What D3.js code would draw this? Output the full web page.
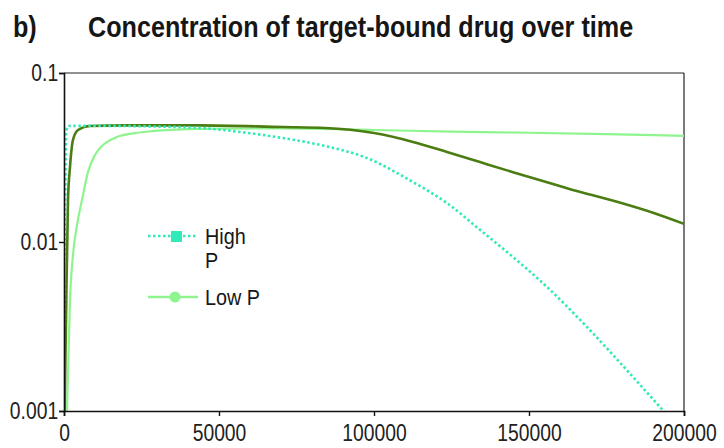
<!DOCTYPE html>
<html>
<head>
<meta charset="utf-8">
<script src="https://cdn.jsdelivr.net/npm/d3@7/dist/d3.min.js"></script>
<style>
  html, body { margin: 0; padding: 0; background: #fff; }
  svg { display: block; }
</style>
</head>
<body>
<svg id="chart" width="724" height="448"></svg>
<script>
// Time (s) and concentration samples for each simulated series
const highPTime   = [0, 300, 700, 1500, 10000, 30000, 43871, 56774, 70645, 84194, 97742, 112581, 123548, 134194, 144839, 155806, 168710, 183548, 193226, 197000];
const highPValues = [0.0032, 0.012, 0.045, 0.0486, 0.0487, 0.0482, 0.0473, 0.0448, 0.0412, 0.0370, 0.0314, 0.0226, 0.0170, 0.0118, 0.00815, 0.00542, 0.00314, 0.00159, 0.00101, 0.00085];

const midTime   = [0, 650, 1290, 1935, 2903, 4516, 8387, 20000, 43871, 70645, 84194, 100000, 112581, 123548, 134194, 144839, 155806, 162258, 178387, 190000, 200000];
const midValues = [0.0006, 0.0035, 0.0177, 0.0278, 0.0402, 0.0460, 0.0486, 0.0490, 0.0490, 0.0479, 0.0473, 0.0441, 0.0391, 0.0341, 0.0297, 0.0259, 0.0226, 0.0208, 0.0173, 0.0149, 0.0128];

const lowPTime   = [0, 970, 1935, 2900, 4190, 5806, 7742, 10000, 12258, 17097, 22903, 29355, 43871, 70645, 100000, 125000, 150000, 175000, 200000];
const lowPValues = [0.0005, 0.001, 0.00454, 0.0084, 0.0126, 0.0177, 0.0260, 0.0327, 0.0370, 0.0418, 0.0441, 0.0454, 0.0467, 0.0470, 0.0460, 0.0450, 0.0443, 0.0435, 0.0425];

const xTicks = [0, 50000, 100000, 150000, 200000];
const yTicks = [0.001, 0.01, 0.1];
const yTickLabels = ["0.001", "0.01", "0.1"];

const titleLabel = "b)";
const titleText = "Concentration of target-bound drug over time";
const legendNames = ["High", "P", "Low P"];

const colors = { high: "#30eab8", mid: "#4b7d12", low: "#8ef48e" };

const svg = d3.select("#chart");
const margin = { left: 64, right: 40, top: 73, bottom: 37 };
const W = 724, H = 448;
const x0 = margin.left, x1 = W - margin.right, y0 = margin.top, y1 = H - margin.bottom;

const x = d3.scaleLinear().domain([0, 200000]).range([x0, x1]);
const y = d3.scaleLog().domain([0.001, 0.1]).range([y1, y0]);

const font = "'Liberation Sans', Arial, sans-serif";

// condensed text helper: horizontal squeeze of a regular face
function narrowText(g, tx, ty, str, size, sx, weight) {
  return g.append("text")
    .attr("transform", `translate(${tx},${ty}) scale(${sx},1)`)
    .attr("font-family", font).attr("font-size", size)
    .attr("font-weight", weight || "normal")
    .attr("fill", "#161616").text(str);
}

// title
narrowText(svg, 13, 37, titleLabel, 29, 0.868, "bold");
narrowText(svg, 88, 37, titleText, 29, 0.868, "bold");

// clip region for the curves
svg.append("defs").append("clipPath").attr("id", "plotClip")
  .append("rect").attr("x", x0).attr("y", y0).attr("width", x1 - x0).attr("height", y1 - y0);

// frame (top and right)
svg.append("line").attr("x1", x0).attr("x2", x1).attr("y1", y0).attr("y2", y0)
  .attr("stroke", "#222").attr("stroke-width", 1.2);
svg.append("line").attr("x1", x1).attr("x2", x1).attr("y1", y0).attr("y2", y1)
  .attr("stroke", "#222").attr("stroke-width", 1.2);

const line = d3.line().x(d => x(d[0])).y(d => y(d[1])).curve(d3.curveMonotoneX);
const plot = svg.append("g").attr("clip-path", "url(#plotClip)");

plot.append("path").datum(d3.zip(lowPTime, lowPValues))
  .attr("d", line).attr("fill", "none").attr("stroke", colors.low).attr("stroke-width", 2.2);
plot.append("path").datum(d3.zip(midTime, midValues))
  .attr("d", line).attr("fill", "none").attr("stroke", colors.mid).attr("stroke-width", 2.6);
plot.append("path").datum(d3.zip(highPTime, highPValues))
  .attr("d", line).attr("fill", "none").attr("stroke", colors.high).attr("stroke-width", 2.6)
  .attr("stroke-dasharray", "2.5,2.5");

// axes
const xAxis = d3.axisBottom(x).tickValues(xTicks).tickFormat(d3.format("d")).tickSize(5).tickPadding(9);
const gx = svg.append("g").attr("transform", `translate(0,${y1})`).call(xAxis);
const yAxis = d3.axisLeft(y).tickValues(yTicks).tickFormat((d, i) => yTickLabels[i]).tickSize(5).tickPadding(2);
const gy = svg.append("g").attr("transform", `translate(${x0},0)`).call(yAxis);

[gx, gy].forEach(g => {
  g.select(".domain").attr("stroke", "#111").attr("stroke-width", 1.6);
  g.selectAll(".tick line").attr("stroke", "#111").attr("stroke-width", 1.4);
  g.selectAll("text").attr("font-family", font).attr("font-size", 23).attr("fill", "#222")
    .attr("transform", "scale(0.84,1)");
});

// legend
const leg = svg.append("g");
leg.append("line").attr("x1", 148).attr("x2", 198).attr("y1", 236).attr("y2", 236)
  .attr("stroke", colors.high).attr("stroke-width", 2.6).attr("stroke-dasharray", "2.5,2.5");
leg.append("rect").attr("x", 171).attr("y", 231).attr("width", 11).attr("height", 11).attr("fill", colors.high);
narrowText(leg, 205, 244, legendNames[0], 22, 0.9);
narrowText(leg, 205, 268, legendNames[1], 22, 0.9);
leg.append("line").attr("x1", 148).attr("x2", 198).attr("y1", 297).attr("y2", 297)
  .attr("stroke", colors.low).attr("stroke-width", 2.6);
leg.append("circle").attr("cx", 175).attr("cy", 297).attr("r", 5.5).attr("fill", colors.low);
narrowText(leg, 205, 305, legendNames[2], 22, 0.9);
</script>
</body>
</html>
